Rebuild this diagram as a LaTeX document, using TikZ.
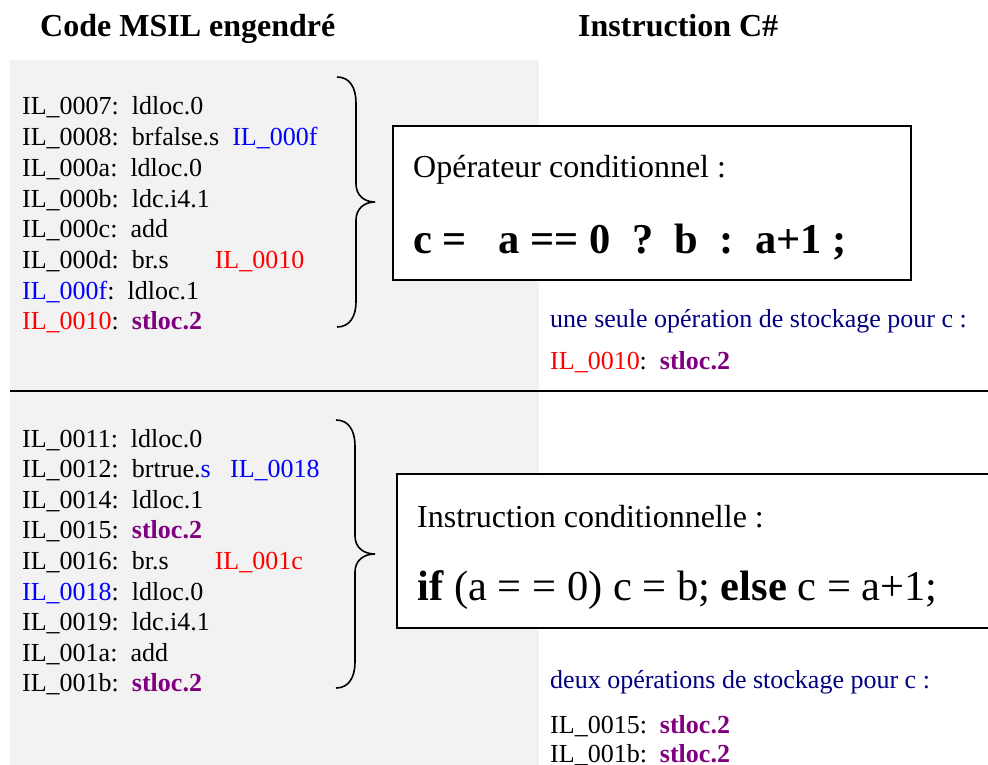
\documentclass[tikz,border=0pt]{standalone}
\usepackage{fontspec}
\setmainfont{Liberation Serif}
\usepackage[svgnames,x11names]{xcolor}
\usepackage{tikz}
\definecolor{IlRed}{HTML}{FF0000}
\definecolor{IlBlue}{HTML}{0000FF}
\definecolor{IlPurple}{HTML}{800080}
\definecolor{NoteNavy}{HTML}{000080}
\definecolor{PanelGray}{HTML}{F2F2F2}
\usetikzlibrary{positioning,calc}

\begin{document}
\begin{tikzpicture}[
x=1pt, y=-1pt,
code/.style={
	anchor=base west,
	inner sep=0pt,
	font=\fontsize{26}{31}\selectfont
},
title/.style={
	anchor=base west,
	inner sep=0pt,
	font=\fontsize{32}{38}\selectfont\bfseries
},
boxtext/.style={
	anchor=base west,
	inner sep=0pt,
	font=\fontsize{32}{38}\selectfont
},
formula/.style={
	anchor=base west,
	inner sep=0pt,
	font=\fontsize{42.5}{50}\selectfont
},
cbox/.style={
	draw,
	fill=white,
	line width=1.8pt,
	anchor=north west,
	inner sep=0pt
},
]
\useasboundingbox (0,0) rectangle (988,765);

\fill[PanelGray] (10,60) rectangle (539,765);

\node[title] (tmsil) at (40,37) {Code MSIL engendré};
\node[title] (tcs) at (578,37) {Instruction C\#};

% premier bloc : operateur conditionnel
\foreach \ilrow [count=\i] in {
	{IL\_0007:\ \ ldloc.0},
	{IL\_0008:\ \ brfalse.s\ \ \textcolor{IlBlue}{IL\_000f}},
	{IL\_000a:\ \ ldloc.0},
	{IL\_000b:\ \ ldc.i4.1},
	{IL\_000c:\ \ add},
	{IL\_000d:\ \ br.s\hspace{46pt}\textcolor{IlRed}{IL\_0010}},
	{\textcolor{IlBlue}{IL\_000f}:\ \ ldloc.1},
	{\textcolor{IlRed}{IL\_0010}:\ \ \textcolor{IlPurple}{\textbf{stloc.2}}}}
	\node[code] (ilA\i) at (22,{115+30.7*(\i-1)}) {\ilrow};

\draw[line width=1.6pt] (337,77) .. controls (350,77) and (356,88) .. (356,103)
	-- (356,184) .. controls (356,195) and (364,202) .. (375,202)
	.. controls (364,202) and (356,209) .. (356,220)
	-- (356,302) .. controls (356,316) and (350,327) .. (337,327);

\node[cbox, minimum width=518pt, minimum height=154pt] (opbox) at (392,125) {};
\node[boxtext] (optitle) at (413,178) {Opérateur conditionnel :};
\node[formula, font=\fontsize{42.5}{50}\selectfont\bfseries] (opcode) at (413,253)
	{c\ =\ \ \ a\ ==\ 0\ \ ?\ \ b\ \ :\ \ a+1\ ;};

\node[code, text=NoteNavy] (opnote) at (550,327) {une seule opération de stockage pour c :};
\node[code] (opstore) at (550,369) {\textcolor{IlRed}{IL\_0010}:\ \ \textcolor{IlPurple}{\textbf{stloc.2}}};

\coordinate (sepL) at (10,391);
\coordinate (sepR) at (988,391);
\draw[line width=2pt] (sepL) -- (sepR);

% second bloc : instruction conditionnelle
\foreach \ilrow [count=\i] in {
	{IL\_0011:\ \ ldloc.0},
	{IL\_0012:\ \ brtrue.\textcolor{IlBlue}{s}\ \ \ \textcolor{IlBlue}{IL\_0018}},
	{IL\_0014:\ \ ldloc.1},
	{IL\_0015:\ \ \textcolor{IlPurple}{\textbf{stloc.2}}},
	{IL\_0016:\ \ br.s\hspace{46pt}\textcolor{IlRed}{IL\_001c}},
	{\textcolor{IlBlue}{IL\_0018}:\ \ ldloc.0},
	{IL\_0019:\ \ ldc.i4.1},
	{IL\_001a:\ \ add},
	{IL\_001b:\ \ \textcolor{IlPurple}{\textbf{stloc.2}}}}
	\node[code] (ilB\i) at (22,{447+30.6*(\i-1)}) {\ilrow};

\draw[line width=1.6pt] (336,420) .. controls (349,420) and (355,431) .. (355,446)
	-- (355,536) .. controls (355,547) and (363,554) .. (375,554)
	.. controls (363,554) and (355,561) .. (355,572)
	-- (355,662) .. controls (355,677) and (349,688) .. (336,688);

\node[cbox, minimum width=610pt, minimum height=154pt] (ifbox) at (396,473) {};
\node[boxtext] (iftitle) at (417,527) {Instruction conditionnelle :};
\node[formula] (ifcode) at (417,600)
	{\textbf{if} (a = = 0) c = b; \textbf{else} c = a+1;};

\node[code, text=NoteNavy] (ifnote) at (550,688) {deux opérations de stockage pour c :};
\node[code] (ifstoreA) at (550,733) {IL\_0015:\ \ \textcolor{IlPurple}{\textbf{stloc.2}}};
\node[code] (ifstoreB) at (550,762) {IL\_001b:\ \ \textcolor{IlPurple}{\textbf{stloc.2}}};

\end{tikzpicture}
\end{document}
